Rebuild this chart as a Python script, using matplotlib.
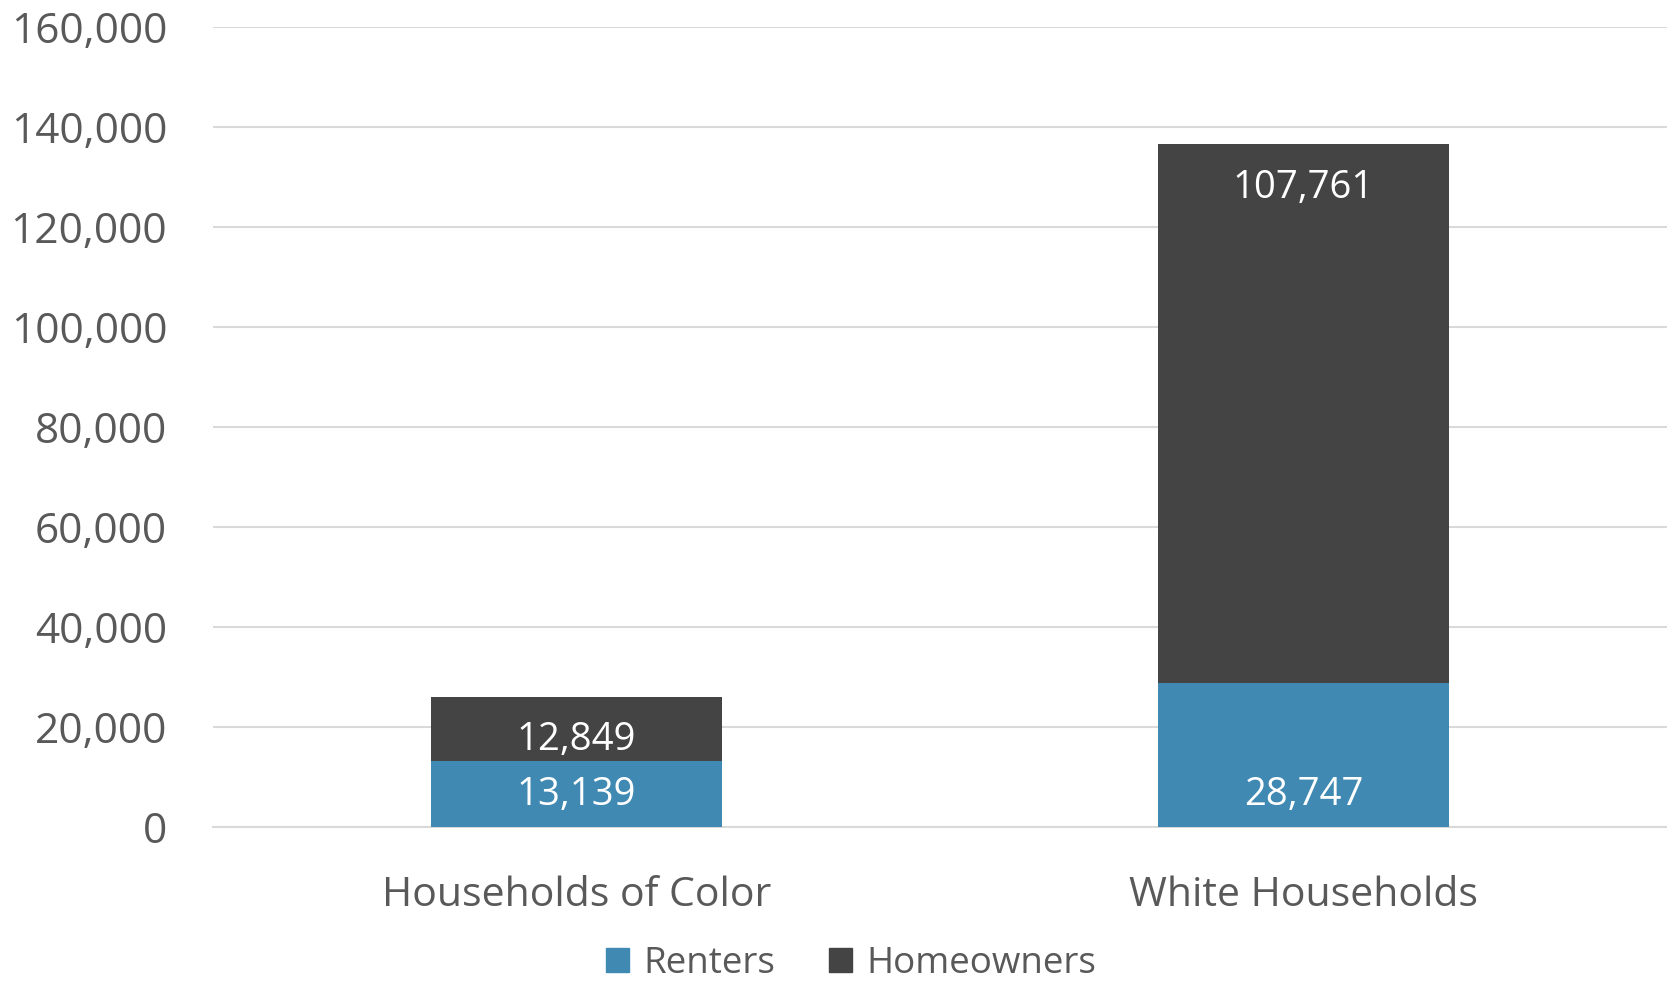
import matplotlib.pyplot as plt
from matplotlib.ticker import FuncFormatter
from matplotlib.patches import Patch

categories = ["Households of Color", "White Households"]
renters = [13139, 28747]
homeowners = [12849, 107761]
yticks = [0, 20000, 40000, 60000, 80000, 100000, 120000, 140000, 160000]

blue = "#3f89b3"
dark = "#444444"
txt = "#595959"

plt.rcParams['font.family'] = ['Open Sans', 'DejaVu Sans']

fig = plt.figure(figsize=(16.67, 9.86), dpi=100)
ax = fig.add_axes([213 / 1667, 1 - 827 / 986, (1667 - 213) / 1667, 800 / 986])

x = list(range(len(categories)))
b1 = ax.bar(x, renters, width=0.40, color=blue, zorder=3)
b2 = ax.bar(x, homeowners, width=0.40, bottom=renters, color=dark, zorder=3)

for i in x:
    # renters label sits at inside base, homeowners at inside end
    ax.annotate(f"{renters[i]:,}", (i, 0), xytext=(0, 23), textcoords="offset points",
                ha="center", va="center", color="white", fontsize=27.5, zorder=4)
    top = renters[i] + homeowners[i]
    ax.annotate(f"{homeowners[i]:,}", (i, top), xytext=(0, -31), textcoords="offset points",
                ha="center", va="center", color="white", fontsize=27.5, zorder=4)

ax.set_xlim(-0.5, 1.5)
ax.set_ylim(0, 160000)
ax.set_yticks(yticks)
ax.yaxis.set_major_formatter(FuncFormatter(lambda v, p: f"{int(v):,}"))
ax.set_xticks(x)
ax.set_xticklabels(categories)
ax.tick_params(axis="y", length=0, pad=33, labelsize=30.5, labelcolor=txt)
ax.tick_params(axis="x", length=0, pad=35, labelsize=29.5, labelcolor=txt)
ax.grid(axis="y", color="#d9d9d9", linewidth=1.5, zorder=0)
for s in ["top", "right", "left"]:
    ax.spines[s].set_visible(False)
ax.spines["bottom"].set_color("#d9d9d9")
ax.spines["bottom"].set_linewidth(1.5)

handles = [Patch(color=blue, label="Renters"), Patch(color=dark, label="Homeowners")]
fig.legend(handles=handles, loc="center", bbox_to_anchor=(851 / 1667, 1 - 964 / 986), ncol=2,
           frameon=False, fontsize=26.5, labelcolor=txt, handlelength=0.63, handleheight=0.63,
           handletextpad=0.4, columnspacing=1.45, borderpad=0.1)

fig.savefig("out.png", dpi=100)
